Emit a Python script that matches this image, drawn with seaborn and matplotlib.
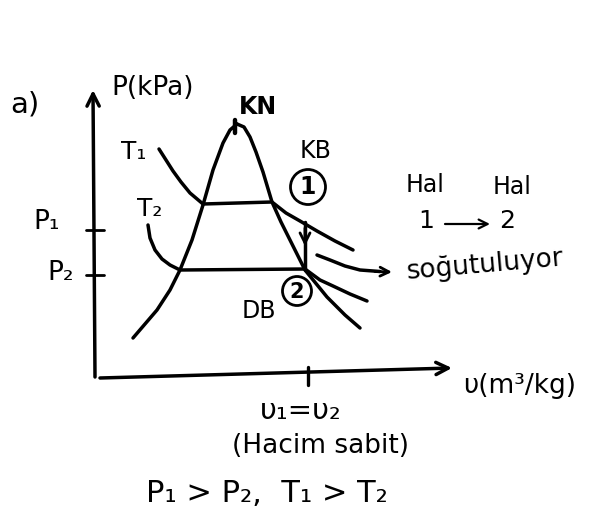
import matplotlib
matplotlib.use("Agg")
import matplotlib.pyplot as plt
import pandas as pd
import seaborn as sns
from matplotlib.patches import Circle

sns.set_theme(style="white")
plt.rcParams["font.family"] = ["DejaVu Sans"]

# Schematic P-v diagram: specific volume v (horizontal), pressure P (vertical)
dome_left_v = [3.8, 6.2, 7.5, 8.5, 9.7, 10.8, 11.8, 12.8, 13.5, 14.2]
dome_left_p = [4.0, 6.8, 8.8, 10.8, 13.8, 17.3, 20.8, 23.5, 24.8, 25.4]
dome_right_v = [14.2, 14.9, 15.5, 16.1, 16.8, 17.7, 18.6, 19.5, 21.0, 23.2, 25.0, 26.5]
dome_right_p = [25.4, 25.1, 24.1, 22.6, 20.6, 17.6, 15.6, 13.8, 10.8, 8.1, 6.3, 5.0]

iso_t1_v = [6.4, 7.1, 7.8, 8.6, 9.5, 10.8, 17.7, 19.1, 20.5, 22.2, 24.0, 25.8]
iso_t1_p = [22.9, 21.8, 20.7, 19.6, 18.5, 17.4, 17.6, 16.5, 15.7, 14.7, 13.7, 12.8]
iso_t2_v = [5.3, 5.5, 6.0, 6.7, 7.5, 8.5, 21.0, 22.5, 23.8, 25.5, 27.2]
iso_t2_p = [15.3, 14.0, 12.8, 11.9, 11.3, 10.8, 10.9, 9.8, 9.2, 8.4, 7.7]

cool_v = [22.2, 23.5, 25.0, 26.5, 28.5]
cool_p = [12.3, 11.8, 11.2, 10.8, 10.65]

# State points 1 -> 2 at constant volume
state_v = [21.0, 21.0]
state_p = [15.6, 10.8]

# Axis tick levels
p1_tick, p2_tick, v_tick = 14.8, 10.3, 21.3

curves = {
    "dome_left": (dome_left_v, dome_left_p),
    "dome_right": (dome_right_v, dome_right_p),
    "T1": (iso_t1_v, iso_t1_p),
    "T2": (iso_t2_v, iso_t2_p),
    "cooling": (cool_v, cool_p),
    "process": (state_v, state_p),
}
frames = [pd.DataFrame({"v": v, "P": p, "curve": name}) for name, (v, p) in curves.items()]
df = pd.concat(frames, ignore_index=True)

fig = plt.figure(figsize=(5.97, 5.25), dpi=100)
ax = fig.add_axes([0, 0, 1, 1])
ax.set_xlim(-9.5, 50.2)
ax.set_ylim(-14.7, 37.8)
ax.axis("off")

LW = 2.5
sns.lineplot(data=df, x="v", y="P", units="curve", estimator=None, sort=False,
             color="black", lw=LW, ax=ax, legend=False,
             solid_capstyle="round", solid_joinstyle="round")

arrow_kw = dict(arrowstyle="->", color="black", lw=LW, mutation_scale=22,
                shrinkA=0, shrinkB=0)
# axes with arrow heads
ax.annotate("", xy=(-0.2, 28.8), xytext=(0.0, 0.1), arrowprops=arrow_kw)
ax.annotate("", xy=(35.7, 1.0), xytext=(0.5, 0.0), arrowprops=arrow_kw)

# ticks
for p in (p1_tick, p2_tick):
    ax.plot([-0.9, 0.9], [p, p], color="black", lw=2.0)
ax.plot([v_tick, v_tick], [-0.7, 1.1], color="black", lw=2.4)
# critical point mark
ax.plot([14.0, 14.0], [24.5, 25.8], color="black", lw=3.2)

# arrow heads on the process line and the cooling arrow
ax.annotate("", xy=(21.0, 13.2), xytext=(21.0, 15.0),
            arrowprops=dict(arrowstyle="->", color="black", lw=2.0, mutation_scale=18,
                            shrinkA=0, shrinkB=0))
ax.annotate("", xy=(29.7, 10.6), xytext=(28.0, 10.65),
            arrowprops=dict(arrowstyle="->", color="black", lw=2.0, mutation_scale=16,
                            shrinkA=0, shrinkB=0))
ax.annotate("", xy=(39.5, 15.4), xytext=(35.0, 15.4),
            arrowprops=dict(arrowstyle="->", color="black", lw=1.6, mutation_scale=16,
                            shrinkA=0, shrinkB=0))

# state circles
ax.add_patch(Circle((21.3, 19.1), 1.75, fill=False, color="black", lw=2.0))
ax.add_patch(Circle((20.2, 8.7), 1.45, fill=False, color="black", lw=2.0))

txt = dict(color="black", ha="center", va="center")
ax.text(-7.0, 27.3, "a)", fontsize=21, **txt)
ax.text(5.8, 29.0, "P(kPa)", fontsize=19, **txt)
ax.text(16.3, 27.1, "KN", fontsize=17, fontweight="bold", **txt)
ax.text(3.9, 22.6, "T₁", fontsize=18, **txt)
ax.text(5.5, 16.9, "T₂", fontsize=18, **txt)
ax.text(22.1, 22.7, "KB", fontsize=17, **txt)
ax.text(21.3, 19.1, "1", fontsize=17, fontweight="bold", **txt)
ax.text(20.2, 8.6, "2", fontsize=15, fontweight="bold", **txt)
ax.text(-4.8, 15.6, "P₁", fontsize=19, **txt)
ax.text(-3.4, 10.5, "P₂", fontsize=19, **txt)
ax.text(16.4, 6.7, "DB", fontsize=17, **txt)
ax.text(33.0, 19.3, "Hal", fontsize=17, **txt)
ax.text(41.7, 19.1, "Hal", fontsize=17, **txt)
ax.text(33.1, 15.7, "1", fontsize=18, **txt)
ax.text(41.2, 15.7, "2", fontsize=18, **txt)
ax.text(39.0, 11.3, "soğutuluyor", fontsize=19, rotation=5, **txt)
ax.text(42.5, -0.8, "υ(m³/kg)", fontsize=19, **txt)
ax.text(20.6, -3.3, "υ₁=υ₂", fontsize=21, **txt)
ax.text(22.6, -6.8, "(Hacim sabit)", fontsize=19, **txt)
ax.text(17.2, -11.5, "P₁ > P₂,  T₁ > T₂", fontsize=22, **txt)

fig.savefig("out.png", dpi=100, facecolor="white")
